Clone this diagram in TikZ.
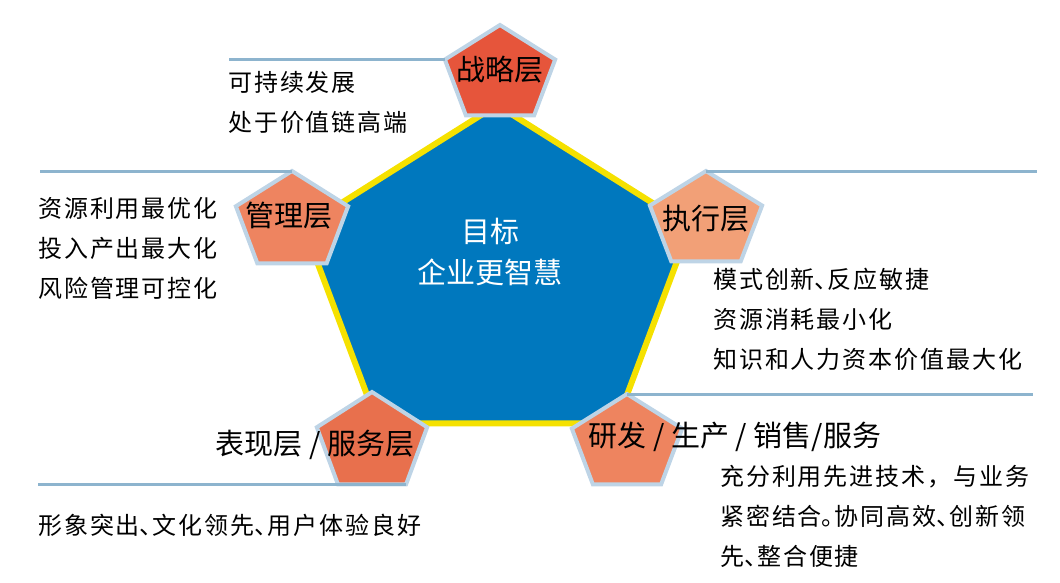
\documentclass[tikz,border=0pt]{standalone}
\usepackage{fontspec}
\usepackage{xcolor}
\usetikzlibrary{calc}
\newfontfamily\cjk{Noto Sans CJK SC}
\newfontfamily\cjkwide[LetterSpace=8]{Noto Sans CJK SC}
\definecolor{coreblue}{RGB}{0,120,190}
\definecolor{rimyellow}{RGB}{245,225,0}
\definecolor{edgeblue}{RGB}{190,212,230}
\definecolor{linkblue}{RGB}{141,180,206}
\definecolor{fillstr}{RGB}{230,85,59}
\definecolor{fillmgt}{RGB}{238,132,96}
\definecolor{fillexe}{RGB}{242,160,119}
\definecolor{fillshw}{RGB}{232,112,77}
\definecolor{fillrnd}{RGB}{238,132,95}
% pentagon: name, cx, cy, rx, ry, style
\newcommand{\penta}[6]{%
  \foreach \k in {0,...,4}{%
    \coordinate (#1-\k) at ({#2+#4*cos(90+72*\k)},{#3-#5*sin(90+72*\k)});}
  \draw[#6] (#1-0) -- (#1-1) -- (#1-2) -- (#1-3) -- (#1-4) -- cycle;}
% narrow punctuation
\newcommand{\dun}{\makebox[13pt][l]{、}}
\newcommand{\ju}{\makebox[13pt][l]{。}}

\begin{document}
\begin{tikzpicture}[x=1pt, y=-1pt,
  lbl/.style={inner sep=0pt, font=\cjk\fontsize{29}{34}\selectfont},
  desc/.style={inner sep=0pt, anchor=west, align=left, font=\cjkwide\fontsize{24}{40}\selectfont},
  tile/.style={draw=edgeblue, line width=4pt, line join=miter},
  link/.style={draw=linkblue, line width=3pt}]
\useasboundingbox (0,0) rectangle (1060,582);
% centre pentagon
\penta{core}{497}{281}{203}{176}{fill=coreblue, draw=rimyellow, line width=6pt}
\node[lbl, white, align=center, font=\cjk\fontsize{29}{41}\selectfont] (goal) at (490,252) {目标\\企业更智慧};
% five layers
\penta{str}{500}{75}{58}{50}{tile, fill=fillstr}
\penta{mgt}{292}{222}{59}{51}{tile, fill=fillmgt}
\penta{exe}{706}{221}{59}{50}{tile, fill=fillexe}
\penta{shw}{372}{443}{58}{51}{tile, fill=fillshw}
\penta{rnd}{627}{444}{58}{50}{tile, fill=fillrnd}
% leader lines
\coordinate (strL) at (229,0);
\coordinate (mgtL) at (40,0);
\coordinate (exeR) at (1037,0);
\coordinate (shwL) at (38,0);
\coordinate (rndR) at (1033,0);
\draw[link] (str-1 -| strL) -- (str-1);
\draw[link] (mgt-0 -| mgtL) -- (mgt-0);
\draw[link] (exe-0) -- (exe-0 -| exeR);
\draw[link] (shw-3 -| shwL) -- (shw-3);
\draw[link] (rnd-0) -- (rnd-0 -| rndR);
% layer names
\node[lbl] (strname) at (500,70) {战略层};
\node[lbl] (mgtname) at (289,216) {管理层};
\node[lbl] (exename) at (706,219) {执行层};
\node[lbl] (shwname) at (315,445) {表现层 / 服务层};
\node[lbl] (rndname) at (735,437) {研发 / 生产 / 销售/服务};
% descriptions
\node[desc] (strtxt) at (228,102) {可持续发展\\处于价值链高端};
\node[desc] (mgttxt) at (38,248) {资源利用最优化\\投入产出最大化\\风险管理可控化};
\node[desc] (exetxt) at (713,319) {模式创新\dun 反应敏捷\\资源消耗最小化\\知识和人力资本价值最大化};
\node[desc] (shwtxt) at (38,525) {形象突出\dun 文化领先\dun 用户体验良好};
\node[desc] (rndtxt) at (720,516) {充分利用先进技术，与业务\\紧密结合\ju 协同高效\dun 创新领\\先\dun 整合便捷};
\end{tikzpicture}
\end{document}
